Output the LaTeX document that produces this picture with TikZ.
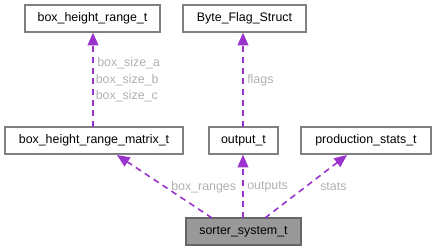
\documentclass[tikz,border=0pt]{standalone}
\usepackage{fontspec}
\setmainfont{Liberation Sans}
\usetikzlibrary{arrows.meta}
\definecolor{edgecol}{HTML}{9A32CD}
\definecolor{labelcol}{HTML}{B0B0B0}
\definecolor{bordercol}{HTML}{808080}
\definecolor{activeborder}{HTML}{666666}
\definecolor{activefill}{HTML}{999999}
\tikzset{
  cls/.style={draw=bordercol, line width=1pt, fill=white, inner sep=0pt,
    font=\fontsize{9.3pt}{11pt}\selectfont, text=black},
  activecls/.style={cls, draw=activeborder, fill=activefill},
  member/.style={draw=edgecol, line width=1.2pt, dash pattern=on 4.5pt off 3.5pt,
    -{Triangle[length=9.5pt,width=8pt]}},
  elabel/.style={font=\fontsize{9.3pt}{11pt}\selectfont, text=labelcol, inner sep=0pt, anchor=west},
}
\begin{document}
\begin{tikzpicture}[x=0.75pt, y=-0.75pt]
\useasboundingbox (0,0) rectangle (436,251);
% classes
\node[cls, minimum width=135*0.75pt, minimum height=27*0.75pt] (bhr) at (92.5,18.5) {box\_height\_range\_t};
\node[cls, minimum width=123*0.75pt, minimum height=27*0.75pt] (bfs) at (244.5,18.5) {Byte\_Flag\_Struct};
\node[cls, minimum width=178*0.75pt, minimum height=27*0.75pt] (bhrm) at (94,140.5) {box\_height\_range\_matrix\_t};
\node[cls, minimum width=69*0.75pt, minimum height=27*0.75pt] (out) at (243.5,140.5) {output\_t};
\node[cls, minimum width=130*0.75pt, minimum height=27*0.75pt] (pst) at (366,140.5) {production\_stats\_t};
\node[activecls, minimum width=115*0.75pt, minimum height=27*0.75pt] (sys) at (243.5,231.5) {sorter\_system\_t};
% member relations
\coordinate (s1) at (93,127);
\coordinate (s2) at (243,127);
\coordinate (s4) at (243,218);
\draw[member] (s1) -- (bhr.south -| s1);
\draw[member] (s2) -- (bfs.south -| s2);
\draw[member] (212,218) -- (117,155);
\draw[member] (s4) -- (out.south -| s4);
\draw[member] (265,218) -- (347,155);
% labels
\node[elabel] (la) at (97,63) {box\_size\_a};
\node[elabel] (lb) at (95.5,80) {box\_size\_b};
\node[elabel] (lc) at (95.5,96) {box\_size\_c};
\node[elabel] (lf) at (247,80) {flags};
\node[elabel] (lr) at (171,187) {box\_ranges};
\node[elabel] (lo) at (247,187) {outputs};
\node[elabel] (ls) at (320,187) {stats};
\end{tikzpicture}
\end{document}
